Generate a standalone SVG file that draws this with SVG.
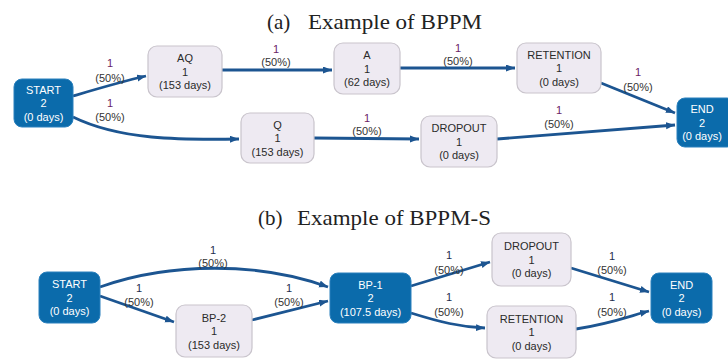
<svg xmlns="http://www.w3.org/2000/svg" width="728" height="360" viewBox="0 0 728 360">
<defs>
<marker id="arr" markerUnits="userSpaceOnUse" markerWidth="10" markerHeight="8" refX="9" refY="3.5" orient="auto">
<path d="M0,0 L9,3.5 L0,7 z" fill="#1c5591"/>
</marker>
<style>
.title{font-family:"Liberation Serif","DejaVu Serif",serif;font-size:21px;fill:#222}
.n rect{fill:#eeeaf2;stroke:#c9c4cc;stroke-width:1.2}
.s rect{fill:#0b6bab;stroke:#2a80bd;stroke-width:1}
.n text,.s text{font-family:"Liberation Sans",Arial,sans-serif;font-size:11px;text-anchor:middle}
.n text{fill:#2a2a2a}
.s text{fill:#fff}
.e path{fill:none;stroke:#1c5591;stroke-width:2.8;marker-end:url(#arr)}
.l{font-family:"Liberation Sans",Arial,sans-serif;font-size:11px;text-anchor:middle;fill:#333}
.o{fill:#6a1d66}
.p{fill:#1f2d4f}
</style>
</defs>
<rect width="728" height="360" fill="#fff"/>
<g id="title-a" class="title"><text x="267" y="29">(a)</text><text x="308" y="29" textLength="174" lengthAdjust="spacingAndGlyphs">Example of BPPM</text></g>
<g id="title-b" class="title"><text x="258" y="225">(b)</text><text x="297" y="225" textLength="194" lengthAdjust="spacingAndGlyphs">Example of BPPM-S</text></g>

<g id="connectors" class="e">
<path d="M73,96 C100,88 120,82 146,76"/>
<path d="M73,117 C120,140 180,140 239,139"/>
<path d="M222,70 L332,70"/>
<path d="M400,68 L515,68"/>
<path d="M314,138 L419,139"/>
<path d="M601,83 L675,113"/>
<path d="M497,139 L675,125"/>
<path d="M100,287 C170,262 260,262 328,287"/>
<path d="M100,296 L174,322"/>
<path d="M252,320 L328,301"/>
<path d="M411,286 L490,262"/>
<path d="M411,313 C440,322 460,327 485,328"/>
<path d="M571,268 L649,292"/>
<path d="M576,329 C610,324 630,316 649,311"/>
</g>

<g id="edge-labels" class="l">
<text class="o" x="110" y="67">1</text><text x="110" y="82">(50%)</text>
<text class="o" x="110" y="107">1</text><text x="110" y="121">(50%)</text>
<text class="o" x="276" y="53">1</text><text x="276" y="66">(50%)</text>
<text class="o" x="458" y="52">1</text><text x="458" y="65">(50%)</text>
<text class="o" x="367" y="122">1</text><text x="367" y="135">(50%)</text>
<text class="o" x="638" y="76">1</text><text x="638" y="91">(50%)</text>
<text class="o" x="559" y="114">1</text><text x="559" y="128">(50%)</text>
<text class="p" x="213" y="254">1</text><text x="213" y="267">(50%)</text>
<text class="p" x="139" y="292">1</text><text x="139" y="306">(50%)</text>
<text class="p" x="289" y="292">1</text><text x="289" y="306">(50%)</text>
<text class="p" x="449" y="259">1</text><text x="449" y="274">(50%)</text>
<text class="p" x="449" y="301">1</text><text x="449" y="316">(50%)</text>
<text class="p" x="612" y="260">1</text><text x="612" y="274">(50%)</text>
<text class="p" x="612" y="301">1</text><text x="612" y="316">(50%)</text>
</g>

<g id="a-start" class="s"><rect x="14" y="79" width="59" height="48" rx="8"/>
<text x="43.5" y="93.5">START</text><text x="43.5" y="107">2</text><text x="43.5" y="120.5">(0 days)</text></g>
<g id="a-aq" class="n"><rect x="148" y="46" width="74" height="51" rx="9"/>
<text x="185" y="62">AQ</text><text x="185" y="75.5">1</text><text x="185" y="89">(153 days)</text></g>
<g id="a-a" class="n"><rect x="334" y="43" width="66" height="51" rx="9"/>
<text x="367" y="59">A</text><text x="367" y="72.5">1</text><text x="367" y="86">(62 days)</text></g>
<g id="a-retention" class="n"><rect x="517" y="43" width="84" height="50" rx="9"/>
<text x="559" y="58.5">RETENTION</text><text x="559" y="72">1</text><text x="559" y="85.5">(0 days)</text></g>
<g id="a-q" class="n"><rect x="241" y="113" width="73" height="50" rx="9"/>
<text x="277.5" y="128.5">Q</text><text x="277.5" y="142">1</text><text x="277.5" y="155.5">(153 days)</text></g>
<g id="a-dropout" class="n"><rect x="421" y="116" width="76" height="51" rx="9"/>
<text x="459" y="132">DROPOUT</text><text x="459" y="145.5">1</text><text x="459" y="159">(0 days)</text></g>
<g id="a-end" class="s"><rect x="677" y="98" width="58" height="49" rx="8"/>
<text x="702" y="113">END</text><text x="702" y="126.5">2</text><text x="702" y="140">(0 days)</text></g>

<g id="b-start" class="s"><rect x="39" y="272" width="61" height="51" rx="8"/>
<text x="69.5" y="288">START</text><text x="69.5" y="301.5">2</text><text x="69.5" y="315">(0 days)</text></g>
<g id="b-bp2" class="n"><rect x="176" y="305" width="76" height="52" rx="9"/>
<text x="214" y="321.5">BP-2</text><text x="214" y="335">1</text><text x="214" y="348.5">(153 days)</text></g>
<g id="b-bp1" class="s"><rect x="330" y="273" width="81" height="50" rx="8"/>
<text x="370.5" y="288.5">BP-1</text><text x="370.5" y="302">2</text><text x="370.5" y="315.5">(107.5 days)</text></g>
<g id="b-dropout" class="n"><rect x="492" y="233" width="79" height="53" rx="9"/>
<text x="531.5" y="250">DROPOUT</text><text x="531.5" y="263.5">1</text><text x="531.5" y="277">(0 days)</text></g>
<g id="b-retention" class="n"><rect x="487" y="306" width="89" height="52" rx="9"/>
<text x="531.5" y="322.5">RETENTION</text><text x="531.5" y="336">1</text><text x="531.5" y="349.5">(0 days)</text></g>
<g id="b-end" class="s"><rect x="651" y="273" width="61" height="50" rx="8"/>
<text x="681.5" y="288.5">END</text><text x="681.5" y="302">2</text><text x="681.5" y="315.5">(0 days)</text></g>
</svg>
